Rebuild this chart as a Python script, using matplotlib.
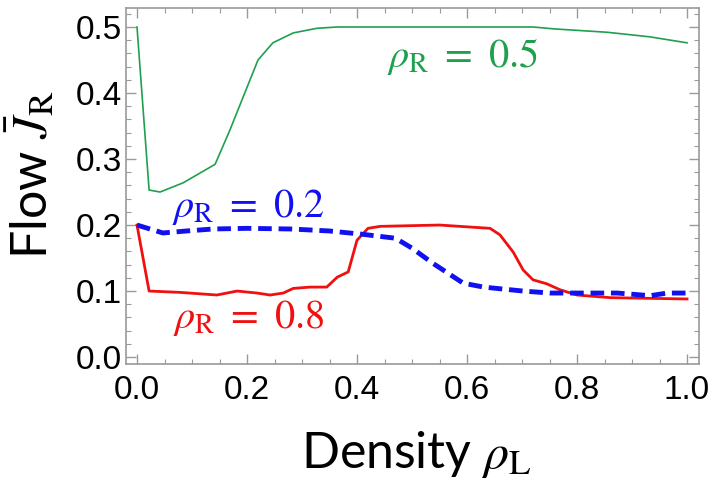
import matplotlib
matplotlib.use("Agg")
import matplotlib.pyplot as plt
from matplotlib.ticker import MultipleLocator

# Data
green_x = [0, 0.022, 0.042, 0.084, 0.142, 0.169, 0.193, 0.22, 0.247, 0.284, 0.327, 0.364, 0.5, 0.6, 0.72, 0.76, 0.855, 0.933, 1.0]
green_y = [0.5, 0.253, 0.25, 0.264, 0.292, 0.344, 0.394, 0.45, 0.476, 0.491, 0.498, 0.5, 0.5, 0.5, 0.5, 0.497, 0.492, 0.485, 0.476]

blue_x = [0, 0.047, 0.09, 0.138, 0.2, 0.28, 0.35, 0.41, 0.47, 0.5, 0.538, 0.593, 0.63, 0.702, 0.751, 0.811, 0.873, 0.933, 0.964, 1.0]
blue_y = [0.2, 0.188, 0.191, 0.194, 0.195, 0.194, 0.191, 0.186, 0.18, 0.165, 0.142, 0.112, 0.106, 0.1, 0.097, 0.097, 0.097, 0.093, 0.097, 0.097]

red_x = [0, 0.022, 0.078, 0.145, 0.182, 0.218, 0.242, 0.266, 0.284, 0.315, 0.345, 0.364, 0.384, 0.4, 0.42, 0.442, 0.55,
         0.642, 0.66, 0.684, 0.702, 0.72, 0.745, 0.769, 0.8, 0.86, 1.0]
red_y = [0.2, 0.1, 0.098, 0.094, 0.1, 0.097, 0.094, 0.097, 0.104, 0.106, 0.106, 0.121, 0.129, 0.177, 0.195, 0.198, 0.2,
         0.195, 0.185, 0.159, 0.132, 0.117, 0.111, 0.102, 0.094, 0.09, 0.088]

series_labels = [r"$\rho_{\mathrm{R}}\ =\ 0.5$", r"$\rho_{\mathrm{R}}\ =\ 0.2$", r"$\rho_{\mathrm{R}}\ =\ 0.8$"]
x_ticks = [0.0, 0.2, 0.4, 0.6, 0.8, 1.0]
y_ticks = [0.0, 0.1, 0.2, 0.3, 0.4, 0.5]

GREEN = "#1ea04e"
BLUE = "#1010f0"
RED = "#f01010"

plt.rcParams["mathtext.fontset"] = "stix"

fig = plt.figure(figsize=(7.2, 4.9), dpi=100)
ax = fig.add_axes([0.175, 0.257, 0.796, 0.727])

ax.plot(green_x, green_y, color=GREEN, lw=1.2)
ax.plot(red_x, red_y, color=RED, lw=2.0)
ax.plot(blue_x, blue_y, color=BLUE, lw=3.5, dashes=(2.8, 1.4))

ax.set_xlim(-0.02, 1.022)
ax.set_ylim(-0.0106, 0.529)
ax.set_xticks(x_ticks)
ax.set_yticks(y_ticks)
ax.set_xticklabels([f"{v:.1f}" for v in x_ticks])
ax.set_yticklabels([f"{v:.1f}" for v in y_ticks])
ax.xaxis.set_minor_locator(MultipleLocator(0.05))
ax.yaxis.set_minor_locator(MultipleLocator(0.02))

spine_col = "#9a9a9a"
for s in ax.spines.values():
    s.set_color(spine_col)
    s.set_linewidth(1.2)
ax.tick_params(which="both", direction="in", top=True, right=True, color=spine_col)
ax.tick_params(which="major", length=7, width=1.0)
ax.tick_params(which="minor", length=3.5, width=0.8)
ax.tick_params(axis="x", which="major", pad=8)
ax.tick_params(axis="y", which="major", pad=3)
for lab in ax.get_xticklabels() + ax.get_yticklabels():
    lab.set_fontfamily("Liberation Sans")
    lab.set_fontsize(24)

txt_fs = 29
ax.text(0.455, 0.439, series_labels[0], color=GREEN, fontsize=txt_fs, ha="left", va="baseline")
ax.text(0.064, 0.212, series_labels[1], color=BLUE, fontsize=txt_fs, ha="left", va="baseline")
ax.text(0.065, 0.044, series_labels[2], color=RED, fontsize=txt_fs, ha="left", va="baseline")

fig.text(416 / 720, 1 - 468 / 490, r"Density $\rho_{\mathrm{L}}$", family="Lato", fontsize=36,
         ha="center", va="baseline")
fig.text(47 / 720, 1 - 175 / 490, r"Flow $\bar{J}_{\mathrm{R}}$", family="Lato", fontsize=36,
         ha="center", va="baseline", rotation=90, rotation_mode="anchor")

fig.savefig("out.png", dpi=100)
